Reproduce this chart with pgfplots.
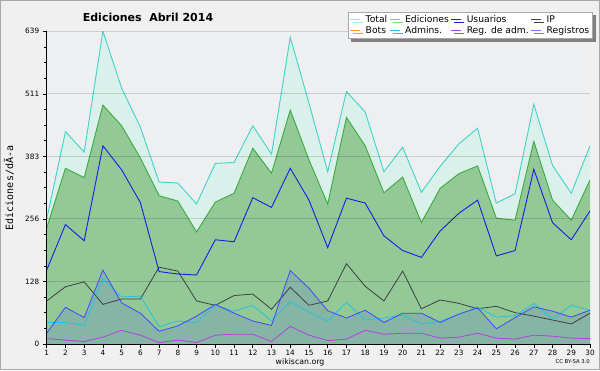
\documentclass[border=0pt]{standalone}
\usepackage{fontspec}
\setmainfont{DejaVu Sans}
\newfontfamily\labelmono{DejaVu Sans Mono}
\usepackage{pgfplots}
\pgfplotsset{compat=1.18}
\usepackage{pgfplotstable}
\usetikzlibrary{shadows}
\definecolor{bgc}{HTML}{F0F0F0}
\definecolor{framec}{HTML}{A8A8A8}
\definecolor{plotbg}{HTML}{EEEFF0}
\definecolor{totline}{HTML}{40D4C8}
\definecolor{totfill}{HTML}{DAF0EA}
\definecolor{totleg}{HTML}{A0E8E0}
\definecolor{edline}{HTML}{3CAA3C}
\definecolor{edfill}{HTML}{92C996}
\definecolor{edleg}{HTML}{80D080}
\definecolor{usuc}{HTML}{1C1CE0}
\definecolor{ipc}{HTML}{404040}
\definecolor{botc}{HTML}{FF9933}
\definecolor{admc}{HTML}{20C4E0}
\definecolor{regadmc}{HTML}{B040E0}
\definecolor{regc}{HTML}{4646FF}
\definecolor{regleg}{HTML}{7070FF}
\definecolor{shadowc}{HTML}{808080}

\pgfplotstableread{
day total edic usu ip adm regadm reg
1  255 237 151  88  44 11  22
2  434 359 244 117  44  8  75
3  392 340 211 127  38  5  54
4  639 488 405  81 133 14 151
5  523 446 356  92  96 28  84
6  443 380 289  92  98 18  63
7  331 303 148 157  35  3  26
8  329 292 143 149  47  8  37
9  286 229 141  88  44  3  57
10 369 290 213  79  79 18  81
11 371 308 209  99  67 20  63
12 446 400 299 102  79 20  47
13 388 349 279  71  47  5  38
14 627 478 359 116  86 36 150
15 492 376 294  79  65 18 114
16 352 286 197  88  47  7  68
17 516 463 298 164  85 10  53
18 474 405 288 118  49 28  69
19 352 309 221  88  53 20  44
20 402 341 191 149  59 22  63
21 310 248 177  72  41 22  63
22 363 318 231  90  46 12  44
23 409 348 267  83  61 14  61
24 441 364 294  72  75 22  74
25 288 257 180  77  55 12  31
26 307 253 191  64  58 10  54
27 490 414 357  57  83 18  76
28 365 294 248  49  51 16  67
29 308 253 213  41  79 12  55
30 405 335 272  63  69 11  69
}\datatab

\begin{document}
\begin{tikzpicture}[x=1pt,y=1pt]
\useasboundingbox (0,0) rectangle (600,370);
\fill[bgc] (0,0) rectangle (600,370);
\draw[framec, line width=1pt] (0.5,0.5) rectangle (599.5,369.5);
\begin{axis}[
  at={(46.7pt,26pt)}, anchor=south west,
  scale only axis, width=543.3pt, height=312.7pt,
  xmin=1, xmax=30, ymin=0, ymax=639,
  axis x line=bottom, axis y line=left,
  axis line style={-, black, line width=0.9pt},
  axis background/.style={fill=plotbg},
  axis on top,
  xtick={1,...,30},
  ytick={0,127.8,255.6,383.4,511.2,639},
  yticklabels={0,128,256,383,511,639},
  minor y tick num=3,
  tick align=outside,
  major tick length=4pt, minor tick length=2.5pt,
  tick style={black, line width=0.6pt},
  ymajorgrids,
  grid style={black, opacity=0.14, line width=0.9pt},
  /pgf/number format/assume math mode=true,
  tick label style={font=\fontsize{7.3}{8}\selectfont},
  xticklabel style={yshift=1pt},
  legend columns=4,
  legend cell align=left,
  legend image code/.code={\draw[#1, line width=0.9pt] (0pt,0.3pt) -- (10pt,0.3pt);},
  legend style={at={(rel axis cs:1.0055,1.0617)}, anchor=north east,
    draw=framec, fill=white, line width=0.6pt,
    drop shadow={shadow xshift=3pt, shadow yshift=-3pt, fill=shadowc, opacity=1},
    font=\fontsize{9.2}{9.5}\selectfont,
    inner sep=1.5pt, row sep=-1.5pt,
    /tikz/every odd column/.append style={column sep=3pt}},
]
\addplot[draw=none, fill=totfill, forget plot] table[x=day,y=total]{\datatab} \closedcycle;
\addplot[totline, line width=0.9pt, forget plot] table[x=day,y=total]{\datatab};
\addplot[draw=none, fill=edfill, forget plot] table[x=day,y=edic]{\datatab} \closedcycle;
\addplot[edline, line width=0.9pt, forget plot] table[x=day,y=edic]{\datatab};
\addplot[draw=none, fill=regc, fill opacity=0.15, forget plot] table[x=day,y=reg]{\datatab} \closedcycle;
\addplot[ipc, line width=0.8pt, forget plot] table[x=day,y=ip]{\datatab};
\addplot[admc, line width=0.8pt, forget plot] table[x=day,y=adm]{\datatab};
\addplot[regadmc, line width=0.8pt, forget plot] table[x=day,y=regadm]{\datatab};
\addplot[regc, line width=0.8pt, forget plot] table[x=day,y=reg]{\datatab};
\addplot[usuc, line width=0.9pt, forget plot] table[x=day,y=usu]{\datatab};
\addlegendimage{totleg}\addlegendentry{Total}
\addlegendimage{edleg}\addlegendentry{Ediciones}
\addlegendimage{usuc}\addlegendentry{Usuarios}
\addlegendimage{ipc}\addlegendentry{IP}
\addlegendimage{botc}\addlegendentry{Bots}
\addlegendimage{admc}\addlegendentry{Admins.}
\addlegendimage{regadmc}\addlegendentry{Reg. de adm.}
\addlegendimage{regleg}\addlegendentry{Registros}
\end{axis}
\node[font=\bfseries\fontsize{11}{13}\selectfont] at (148,353) {Ediciones\ \ Abril 2014};
\node[rotate=90, font=\labelmono\fontsize{10}{12}\selectfont] at (9,182) {Ediciones/dÃ-a};
\node[font=\fontsize{7.8}{9}\selectfont] at (300,8) {wikiscan.org};
\node[anchor=east, font=\fontsize{5.3}{6}\selectfont, inner sep=0pt] at (590,8) {CC BY-SA 3.0};
\end{tikzpicture}
\end{document}
